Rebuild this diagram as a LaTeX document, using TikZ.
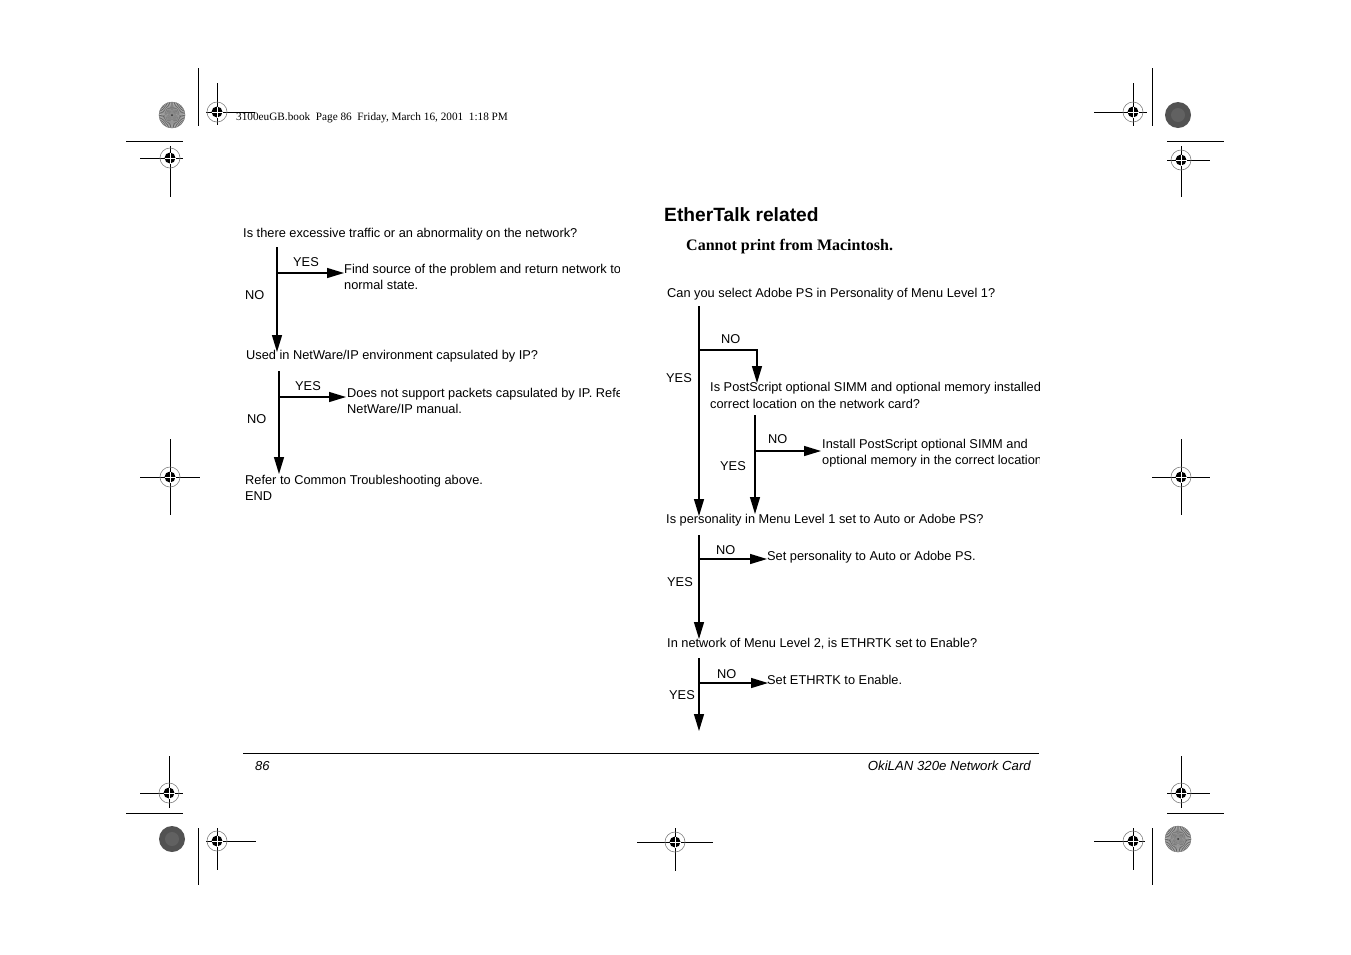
\documentclass[tikz,border=0pt]{standalone}
\usepackage{fontspec}
\setmainfont{Liberation Sans}
\newfontfamily\tms{Liberation Serif}
\usetikzlibrary{arrows.meta}
\tikzset{
  txt/.style={anchor=base west, inner sep=0pt, font=\fontsize{12.8}{15}\selectfont},
  flow/.style={line width=1.3pt, -{Triangle[length=17pt,width=10pt]}},
  reg/.style={line width=1pt},
}
\newcommand\regtarget[6]{% cx cy xl xr yt yb
  \draw[reg] (#3,#2) -- (#4,#2) (#1,#5) -- (#1,#6);
  \draw[gray, line width=0.6pt] (#1,#2) circle (10);
  \fill (#1,#2) circle (5.5);
  \draw[white, line width=0.7pt] (#1-5.5,#2) -- (#1+5.5,#2) (#1,#2-5.5) -- (#1,#2+5.5);
}
\newcommand\starbrst[2]{%
  \fill[black!25] (#1,#2) circle (13);
  \foreach \a in {0,8,...,352} {\fill[black!60] (#1,#2) -- ++(\a:13) arc (\a:\a+4:13) -- cycle;}
  \fill[black!45] (#1,#2) circle (3);
  \fill[black!80] (#1,#2) circle (1);
  \draw[black!50, line width=0.5pt] (#1,#2) circle (13);
}
\newcommand\darkdisc[2]{%
  \fill[black!68] (#1,#2) circle (13);
  \fill[black!62] (#1,#2) circle (7);
}
\begin{document}
\begin{tikzpicture}[x=1pt,y=-1pt]
\useasboundingbox (0,0) rectangle (1351,954);
\fill[white] (0,0) rectangle (1351,954);

% ---------- registration marks ----------
\starbrst{172}{115}
\draw[reg] (198,68) -- (198,126);
\regtarget{217}{112}{206}{255}{83}{125}
\draw[reg] (126,141) -- (183,141);
\regtarget{170}{158}{140}{183}{146}{197}

\regtarget{1133}{112}{1094}{1147}{83}{126}
\draw[reg] (1152,68) -- (1152,126);
\darkdisc{1178}{115}
\draw[reg] (1167,141) -- (1224,141);
\regtarget{1181}{160}{1167}{1210}{146}{197}

\regtarget{170}{477}{140}{200}{439}{515}
\regtarget{1181}{477}{1152}{1210}{439}{515}

\regtarget{169}{793}{140}{183}{756}{808}
\draw[reg] (126,813) -- (183,813);
\darkdisc{172}{839}
\draw[reg] (198,828) -- (198,885);
\regtarget{217}{841}{206}{256}{828}{870}

\regtarget{675}{842}{637}{713}{828}{871}

\regtarget{1181}{793}{1167}{1210}{756}{808}
\draw[reg] (1167,813) -- (1224,813);
\starbrst{1178}{839}
\draw[reg] (1152,828) -- (1152,885);
\regtarget{1133}{841}{1094}{1145}{828}{870}

% ---------- header ----------
\node[txt, font=\tms\fontsize{11.25}{13}\selectfont] (hdr) at (236,120) {3100euGB.book\ \ Page 86\ \ Friday, March 16, 2001\ \ 1:18 PM};

% ---------- left flow ----------
\node[txt] (q1) at (243,237) {Is there excessive traffic or an abnormality on the network?};
\node[txt] (y1) at (293,266) {YES};
\node[txt] (n1) at (245,299) {NO};
\begin{scope}
\clip (0,0) rectangle (619,954);
\node[txt] (a1) at (344,273) {Find source of the problem and return network to};
\node[txt] (a1b) at (344,289) {normal state.};
\node[txt] (a2) at (347,397) {Does not support packets capsulated by IP. Refer to the};
\node[txt] (a2b) at (347,413) {NetWare/IP manual.};
\end{scope}
\node[txt] (q2) at (246,359) {Used in NetWare/IP environment capsulated by IP?};
\node[txt] (y2) at (295,390) {YES};
\node[txt] (n2) at (247,423) {NO};
\node[txt] (e1) at (245,484) {Refer to Common Troubleshooting above.};
\node[txt] (e2) at (245,500) {END};

\coordinate (l1t) at (277,247);
\coordinate (l1b) at (277,352);
\coordinate (l1m) at (277,273);
\coordinate (l1r) at (344,273);
\draw[flow] (l1t) -- (l1b);
\draw[flow] (l1m) -- (l1r);
\coordinate (l2t) at (279,371);
\coordinate (l2b) at (279,474);
\coordinate (l2m) at (279,397);
\coordinate (l2r) at (346,397);
\draw[flow] (l2t) -- (l2b);
\draw[flow] (l2m) -- (l2r);

% ---------- right flow ----------
\node[txt, font=\bfseries\fontsize{19.2}{21}\selectfont] (ttl) at (664,221) {EtherTalk related};
\node[txt, font=\tms\bfseries\fontsize{16}{18}\selectfont] (sub) at (686,250) {Cannot print from Macintosh.};

\node[txt] (r1) at (667,297) {Can you select Adobe PS in Personality of Menu Level 1?};
\node[txt] (rn1) at (721,343) {NO};
\node[txt] (ry1) at (666,382) {YES};
\begin{scope}
\clip (0,0) rectangle (1039,954);
\node[txt] (r2) at (710,391) {Is PostScript optional SIMM and optional memory installed in the};
\node[txt] (r2b) at (710,408) {correct location on the network card?};
\node[txt] (ra2) at (822,448) {Install PostScript optional SIMM and};
\node[txt] (ra2b) at (822,464) {optional memory in the correct location.};
\end{scope}
\node[txt] (rn2) at (768,443) {NO};
\node[txt] (ry2) at (720,470) {YES};
\node[txt] (r3) at (666,523) {Is personality in Menu Level 1 set to Auto or Adobe PS?};
\node[txt] (rn3) at (716,554) {NO};
\node[txt] (ra3) at (767,560) {Set personality to Auto or Adobe PS.};
\node[txt] (ry3) at (667,586) {YES};
\node[txt] (r4) at (667,647) {In network of Menu Level 2, is ETHRTK set to Enable?};
\node[txt] (rn4) at (717,678) {NO};
\node[txt] (ra4) at (767,684) {Set ETHRTK to Enable.};
\node[txt] (ry4) at (669,699) {YES};

\coordinate (m1t) at (699,306);
\coordinate (m1b) at (699,516);
\coordinate (m1j) at (699,350);
\coordinate (m1c) at (757,350);
\coordinate (m1d) at (757,383);
\draw[flow] (m1t) -- (m1b);
\draw[flow] (m1j) -- (m1c) -- (m1d);
\coordinate (m2t) at (755,415);
\coordinate (m2b) at (755,514);
\coordinate (m2j) at (755,451);
\coordinate (m2r) at (821,451);
\draw[flow] (m2t) -- (m2b);
\draw[flow] (m2j) -- (m2r);
\coordinate (m3t) at (699,535);
\coordinate (m3b) at (699,639);
\coordinate (m3j) at (699,559);
\coordinate (m3r) at (767,559);
\draw[flow] (m3t) -- (m3b);
\draw[flow] (m3j) -- (m3r);
\coordinate (m4t) at (699,658);
\coordinate (m4b) at (699,731);
\coordinate (m4j) at (699,683);
\coordinate (m4r) at (768,683);
\draw[flow] (m4t) -- (m4b);
\draw[flow] (m4j) -- (m4r);

% ---------- footer ----------
\coordinate (fl) at (243,753);
\coordinate (fr) at (1039,753);
\draw[line width=1pt] (fl) -- (fr);
\node[txt, font=\itshape\fontsize{13}{15}\selectfont] (pg) at (255,770) {86};
\node[anchor=base east, inner sep=0pt, font=\itshape\fontsize{13.2}{15}\selectfont] (bk) at (1031,770) {OkiLAN 320e Network Card};
\end{tikzpicture}
\end{document}
